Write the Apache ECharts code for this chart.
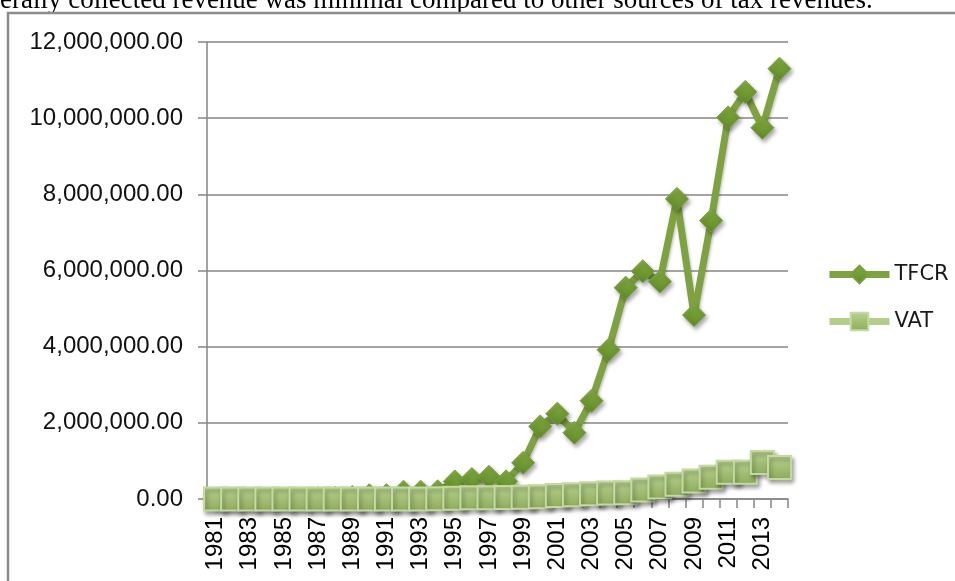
<!DOCTYPE html>
<html>
<head>
<meta charset="utf-8">
<script src="https://cdn.jsdelivr.net/npm/echarts@6/dist/echarts.min.js"></script>
<style>
  html, body { margin: 0; padding: 0; background: #ffffff; }
  #chart { width: 955px; height: 581px; }
</style>
</head>
<body>
<div id="chart"></div>
<script>
// years on the category axis
var years = ['1981', '1982', '1983', '1984', '1985', '1986', '1987', '1988', '1989', '1990',
  '1991', '1992', '1993', '1994', '1995', '1996', '1997', '1998', '1999', '2000',
  '2001', '2002', '2003', '2004', '2005', '2006', '2007', '2008', '2009', '2010',
  '2011', '2012', '2013', '2014'];

// total federally collected revenue
var tfcr = [13300, 11400, 10500, 11300, 15000, 12600, 25400, 27600, 53900, 98100,
  100900, 190500, 192800, 201900, 460000, 523600, 582800, 463600, 949200, 1906200,
  2240000, 1740000, 2580000, 3920000, 5550000, 5980000, 5710000, 7880000, 4830000, 7310000,
  10020000, 10690000, 9750000, 11300000];

// value added tax
var vat = [0, 0, 0, 0, 0, 0, 0, 0, 0, 0,
  0, 0, 0, 8200, 21000, 31000, 34000, 36900, 47100, 58500,
  91800, 108600, 136400, 155000, 165000, 235000, 315000, 390000, 470000, 570000,
  700000, 700000, 960000, 830000];

var yMax = 12000000;
var yStep = 2000000;

var gray = '#868686';

var chart = echarts.init(document.getElementById('chart'));

var shadow = {
  shadowBlur: 4,
  shadowOffsetX: 2,
  shadowOffsetY: 3,
  shadowColor: 'rgba(0,0,0,0.35)'
};

chart.setOption({
  animation: false,
  graphic: [
    {
      type: 'text',
      left: 0,
      top: -13,
      style: {
        text: 'erally collected revenue was minimal compared to other sources of tax revenues.',
        font: '27px "Liberation Serif"',
        fill: '#000'
      }
    },
    {
      type: 'rect',
      shape: { x: 8, y: 13, width: 1000, height: 700 },
      style: { fill: 'none', stroke: '#8c8c8c', lineWidth: 2.5 }
    }
  ],
  grid: {
    left: 207,
    right: 167,
    top: 42,
    bottom: 82,
    containLabel: false
  },
  legend: {
    orient: 'vertical',
    left: 826,
    top: 264,
    padding: 0,
    itemWidth: 60,
    itemHeight: 22,
    itemGap: 26,
    lineStyle: { width: 7 },
    textStyle: {
      fontFamily: 'DejaVu Sans',
      fontSize: 21,
      color: '#1a1a1a'
    },
    data: ['TFCR', 'VAT']
  },
  xAxis: {
    type: 'category',
    data: years,
    boundaryGap: true,
    axisLine: { lineStyle: { color: gray, width: 1.5 } },
    axisTick: {
      show: true,
      interval: 0,
      length: 9,
      lineStyle: { color: gray, width: 1.5 }
    },
    axisLabel: {
      interval: 1,
      rotate: 90,
      margin: 18,
      fontFamily: 'Liberation Sans',
      fontSize: 24,
      color: '#000'
    }
  },
  yAxis: {
    type: 'value',
    min: 0,
    max: yMax,
    interval: yStep,
    axisLine: { show: true, lineStyle: { color: gray, width: 1.5 } },
    axisTick: { show: true, length: 9, lineStyle: { color: gray, width: 1.5 } },
    splitLine: { lineStyle: { color: gray, width: 1.5 } },
    axisLabel: {
      margin: 24,
      fontFamily: 'Liberation Sans',
      fontSize: 24,
      color: '#111',
      formatter: function (v) {
        return v.toLocaleString('en-US', { minimumFractionDigits: 2, maximumFractionDigits: 2 });
      }
    }
  },
  series: [
    {
      name: 'TFCR',
      type: 'line',
      data: tfcr,
      symbol: 'diamond',
      symbolSize: 23,
      showAllSymbol: true,
      lineStyle: {
        color: '#7ea23f',
        width: 7,
        shadowBlur: 3,
        shadowOffsetX: 1,
        shadowOffsetY: 2,
        shadowColor: 'rgba(0,0,0,0.25)'
      },
      itemStyle: Object.assign({
        color: new echarts.graphic.LinearGradient(0, 0, 0, 1, [
          { offset: 0, color: '#84ad43' },
          { offset: 1, color: '#5f8a26' }
        ]),
        borderColor: '#76a03a',
        borderWidth: 1
      }, shadow),
      z: 2
    },
    {
      name: 'VAT',
      type: 'line',
      data: vat,
      symbol: 'rect',
      symbolSize: 23,
      showAllSymbol: true,
      lineStyle: { color: '#b4cd8b', width: 7 },
      itemStyle: Object.assign({
        color: new echarts.graphic.LinearGradient(0, 0, 0, 1, [
          { offset: 0, color: '#b9d390' },
          { offset: 1, color: '#8dab5c' }
        ]),
        borderColor: '#c4daa0',
        borderWidth: 2
      }, shadow),
      z: 3
    }
  ]
});
</script>
</body>
</html>
